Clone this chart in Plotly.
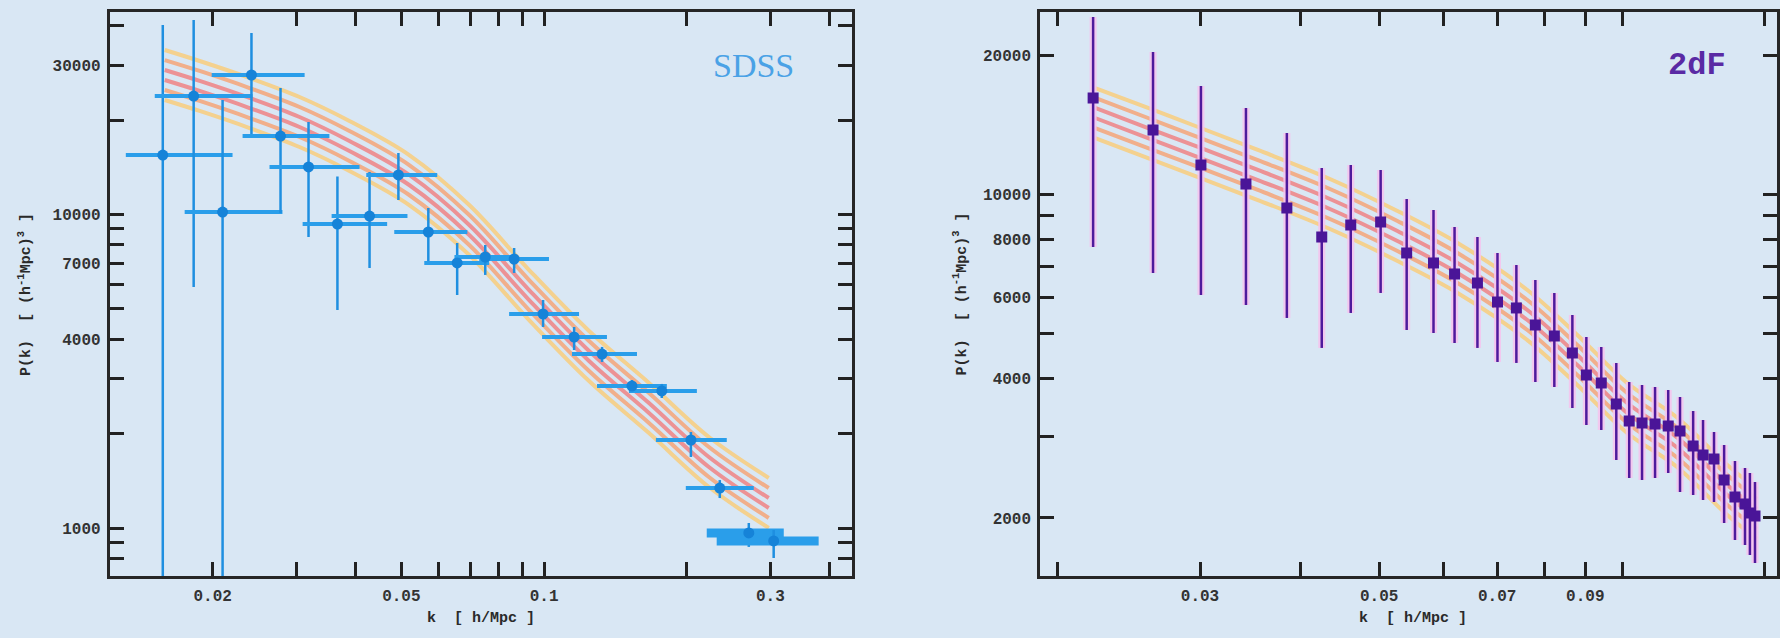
import plotly.graph_objects as go

# ---------------- SDSS (left panel) ----------------
sdss_k = [0.01570, 0.01824, 0.02099, 0.02415, 0.02781, 0.03186, 0.03666, 0.04285, 0.04929, 0.05700, 0.06557,
          0.07515, 0.08646, 0.09951, 0.1157, 0.1325, 0.1532, 0.1771, 0.2040, 0.2347, 0.2702, 0.3049]
sdss_k_lo = [0.01312, 0.01510, 0.01746, 0.01991, 0.02313, 0.02636, 0.03096, 0.03564, 0.04217, 0.04831, 0.05589,
             0.06471, 0.07298, 0.08438, 0.09903, 0.1145, 0.1293, 0.1510, 0.1721, 0.1990, 0.2203, 0.2312]
sdss_k_hi = [0.02203, 0.02427, 0.02807, 0.03126, 0.03526, 0.04081, 0.04667, 0.05151, 0.05952, 0.06889, 0.07659,
             0.08646, 0.1024, 0.1185, 0.1357, 0.1570, 0.1815, 0.2100, 0.2428, 0.2768, 0.3202, 0.3793]
sdss_P = [15490, 23890, 10190, 27880, 17810, 14190, 9333, 9897, 13380, 8801, 7010,
          7325, 7218, 4819, 4070, 3591, 2840, 2738, 1910, 1342, 965, 910]
sdss_P_hi = [40270, 41780, 23210, 37930, 25340, 19740, 13240, 13670, 15720, 10500, 8117,
             8000, 7824, 5341, 4381, 3783, 2968, 2883, 2025, 1423, 1038, 986]
sdss_P_lo = [500, 5875, 500, 17680, 10120, 8482, 4963, 6757, 11130, 7010, 5541,
             6420, 6514, 4381, 3699, 3388, 2698, 2600, 1686, 1247, 871, 803]

# theory band (left), six curves from top to bottom
band1_k = [0.01585, 0.01878, 0.02393, 0.03050, 0.03886, 0.05195, 0.06953, 0.09299, 0.1244, 0.1664, 0.2226, 0.2977]
band1_c1 = [33500, 30900, 27280, 23720, 19890, 15490, 10730, 6656, 4253, 2903, 1952, 1445]
band1_c2 = [31120, 28720, 25340, 22040, 18480, 14390, 9970, 6185, 3952, 2697, 1814, 1342]
band1_c3 = [28920, 26690, 23550, 20480, 17170, 13380, 9265, 5746, 3672, 2506, 1686, 1247]
band1_c4 = [26880, 24800, 21880, 19030, 15950, 12430, 8608, 5340, 3412, 2329, 1566, 1159]
band1_c5 = [24970, 23040, 20330, 17680, 14830, 11550, 7998, 4962, 3170, 2164, 1455, 1077]
band1_c6 = [23210, 21410, 18890, 16430, 13780, 10730, 7432, 4610, 2945, 2010, 1352, 1001]

# ---------------- 2dF (right panel) ----------------
tdf_k = [0.02212, 0.02624, 0.03008, 0.03420, 0.03843, 0.04245, 0.04611, 0.05021, 0.05408, 0.05838, 0.06199,
         0.06617, 0.07006, 0.07394, 0.07805, 0.08239, 0.08674, 0.09027, 0.09419, 0.09831, 0.1020, 0.1058,
         0.1098, 0.1140, 0.1179, 0.1224, 0.1259, 0.1299, 0.1337, 0.1379, 0.1419, 0.1439, 0.1460]
tdf_P = [16150, 13770, 11570, 10530, 9344, 8088, 8587, 8716, 7472, 7109, 6730,
         6435, 5855, 5684, 5222, 4945, 4545, 4073, 3914, 3526, 3239, 3208,
         3192, 3161, 3083, 2861, 2736, 2682, 2416, 2220, 2144, 2050, 2020]
tdf_P_hi = [24160, 20300, 17140, 15370, 13570, 11400, 11570, 11290, 9772, 9252, 8502,
            8088, 7472, 7037, 6531, 6124, 5488, 4920, 4681, 4324, 3933, 3875,
            3836, 3780, 3650, 3405, 3256, 3068, 2876, 2655, 2565, 2501, 2393]
tdf_P_lo = [7697, 6765, 6062, 5768, 5408, 4659, 5544, 6124, 5093, 5018, 4775,
            4659, 4345, 4324, 3933, 3836, 3456, 3176, 3098, 2669, 2440, 2416,
            2440, 2501, 2277, 2243, 2187, 2166, 1951, 1793, 1748, 1664, 1599]

band2_k = [0.02225, 0.02587, 0.02983, 0.03538, 0.04318, 0.05268, 0.06252, 0.07629, 0.08797, 0.1014, 0.1169, 0.1349, 0.1468]
band2_c1 = [16970, 15370, 13980, 12470, 10850, 9207, 7852, 6215, 4969, 3914, 3297, 2603, 2310]
band2_c2 = [16150, 14620, 13300, 11860, 10320, 8760, 7469, 5913, 4727, 3724, 3138, 2477, 2198]
band2_c3 = [15370, 13910, 12660, 11290, 9820, 8334, 7109, 5626, 4497, 3543, 2986, 2356, 2091]
band2_c4 = [14620, 13230, 12040, 10740, 9344, 7929, 6765, 5353, 4279, 3371, 2840, 2243, 1990]
band2_c5 = [13910, 12590, 11460, 10220, 8890, 7544, 6436, 5093, 4073, 3208, 2702, 2134, 1893]
band2_c6 = [13230, 11980, 10900, 9723, 8458, 7178, 6124, 4845, 3875, 3052, 2577, 2030, 1802]

# ---------------- ticks ----------------
left_xticks = [0.02, 0.03, 0.04, 0.05, 0.06, 0.07, 0.08, 0.09, 0.1, 0.2, 0.3, 0.4]
left_xlabels = ["0.02", "", "", "0.05", "", "", "", "", "0.1", "", "0.3", ""]
left_yticks = [800, 900, 1000, 2000, 3000, 4000, 5000, 6000, 7000, 8000, 9000, 10000, 20000, 30000, 40000]
left_ylabels = ["", "", "1000", "", "", "4000", "", "", "7000", "", "", "10000", "", "30000", ""]
right_xticks = [0.02, 0.03, 0.04, 0.05, 0.06, 0.07, 0.08, 0.09, 0.1, 0.15]
right_xlabels = ["", "0.03", "", "0.05", "", "0.07", "", "0.09", "", "0.15"]
right_yticks = [2000, 3000, 4000, 5000, 6000, 7000, 8000, 9000, 10000, 20000]
right_ylabels = ["2000", "", "4000", "", "6000", "", "8000", "", "10000", "20000"]

BG = "#d9e7f4"
YEL = "rgba(248,205,125,0.85)"
ORA = "rgba(245,165,120,0.85)"
RED = "rgba(240,125,125,0.8)"
band_colors = [YEL, ORA, RED, RED, ORA, YEL]

fig = go.Figure()

for c, col in zip([band1_c1, band1_c2, band1_c3, band1_c4, band1_c5, band1_c6], band_colors):
    fig.add_trace(go.Scatter(x=band1_k, y=c, mode="lines", line=dict(color=col, width=4, shape="spline"),
                             xaxis="x", yaxis="y", hoverinfo="skip"))
for c, col in zip([band2_c1, band2_c2, band2_c3, band2_c4, band2_c5, band2_c6], band_colors):
    fig.add_trace(go.Scatter(x=band2_k, y=c, mode="lines", line=dict(color=col, width=4, shape="spline"),
                             xaxis="x2", yaxis="y2", hoverinfo="skip"))

# SDSS points
n_thin = 20
ex_p = [h - k for h, k in zip(sdss_k_hi, sdss_k)]
ex_m = [k - l for k, l in zip(sdss_k, sdss_k_lo)]
ey_p = [h - p for h, p in zip(sdss_P_hi, sdss_P)]
ey_m = [p - l for p, l in zip(sdss_P, sdss_P_lo)]
fig.add_trace(go.Scatter(
    x=sdss_k[:n_thin], y=sdss_P[:n_thin], mode="markers",
    marker=dict(symbol="circle", size=11, color="#1683d8"),
    error_x=dict(type="data", symmetric=False, array=ex_p[:n_thin], arrayminus=ex_m[:n_thin],
                 color="#2a9eea", thickness=4, width=0),
    error_y=dict(type="data", symmetric=False, array=ey_p[:n_thin], arrayminus=ey_m[:n_thin],
                 color="#1f8fe0", thickness=2.5, width=0),
    xaxis="x", yaxis="y"))
fig.add_trace(go.Scatter(
    x=sdss_k[n_thin:], y=sdss_P[n_thin:], mode="markers",
    marker=dict(symbol="circle", size=11, color="#1683d8"),
    error_x=dict(type="data", symmetric=False, array=ex_p[n_thin:], arrayminus=ex_m[n_thin:],
                 color="#2a9eea", thickness=9, width=0),
    error_y=dict(type="data", symmetric=False, array=ey_p[n_thin:], arrayminus=ey_m[n_thin:],
                 color="#1f8fe0", thickness=2.5, width=0),
    xaxis="x", yaxis="y"))

# 2dF points: pink halo then purple bars
ty_p = [h - p for h, p in zip(tdf_P_hi, tdf_P)]
ty_m = [p - l for p, l in zip(tdf_P, tdf_P_lo)]
fig.add_trace(go.Scatter(
    x=tdf_k, y=tdf_P, mode="markers", marker=dict(size=1, color="rgba(0,0,0,0)"),
    error_y=dict(type="data", symmetric=False, array=ty_p, arrayminus=ty_m,
                 color="rgba(244,196,238,0.9)", thickness=7, width=0),
    xaxis="x2", yaxis="y2", hoverinfo="skip"))
fig.add_trace(go.Scatter(
    x=tdf_k, y=tdf_P, mode="markers",
    marker=dict(symbol="square", size=11, color="#4a1598"),
    error_y=dict(type="data", symmetric=False, array=ty_p, arrayminus=ty_m,
                 color="#4e1a9c", thickness=2.5, width=0),
    xaxis="x2", yaxis="y2"))

tickfont = dict(family="Liberation Mono", size=16, color="#333333", weight="bold")
common = dict(type="log", showgrid=False, zeroline=False, showline=True, linewidth=3,
              linecolor="#262626", mirror="ticks", ticks="inside", ticklen=14, tickwidth=2.5,
              tickcolor="#222222", tickfont=tickfont)

fig.update_layout(
    width=1780, height=638,
    margin=dict(l=0, r=0, t=0, b=0),
    paper_bgcolor=BG, plot_bgcolor=BG,
    showlegend=False,
    xaxis=dict(common, domain=[110 / 1780, 853 / 1780], range=[-1.9158, -0.3516],
               tickvals=left_xticks, ticktext=left_xlabels, anchor="y", ticklabelstandoff=3),
    yaxis=dict(common, domain=[62 / 638, 626 / 638], range=[2.8472, 4.6463],
               tickvals=left_yticks, ticktext=left_ylabels, anchor="x", ticklabelstandoff=3),
    xaxis2=dict(common, domain=[1042 / 1780, 1.0], range=[-1.7207, -0.8084],
                tickvals=right_xticks, ticktext=right_xlabels, anchor="y2", ticklabelstandoff=3),
    yaxis2=dict(common, domain=[62 / 638, 626 / 638], range=[3.1757, 4.3939],
                tickvals=right_yticks, ticktext=right_ylabels, anchor="x2", ticklabelstandoff=3),
)

title_font = dict(family="Liberation Mono", size=15, color="#2a2a2a", weight="bold")
ytitle = "P(k)  [ (h<sup>-1</sup>Mpc)<sup>3</sup> ]"
xtitle = "k  [ h/Mpc ]"
fig.add_annotation(text=ytitle, x=25 / 1780, y=(638 - 294) / 638, xanchor="center", yanchor="middle",
                   xref="paper", yref="paper", textangle=-90, showarrow=False, font=title_font)
fig.add_annotation(text=ytitle, x=962 / 1780, y=(638 - 294) / 638, xanchor="center", yanchor="middle",
                   xref="paper", yref="paper", textangle=-90, showarrow=False, font=title_font)
fig.add_annotation(text=xtitle, x=482 / 1780, y=(638 - 618) / 638, xanchor="center", yanchor="middle",
                   xref="paper", yref="paper", showarrow=False, font=title_font)
fig.add_annotation(text=xtitle, x=1415 / 1780, y=(638 - 618) / 638, xanchor="center", yanchor="middle",
                   xref="paper", yref="paper", showarrow=False, font=title_font)
fig.add_annotation(text="SDSS", x=755 / 1780, y=(638 - 66) / 638, xanchor="center", yanchor="middle",
                   xref="paper", yref="paper",
                   showarrow=False, font=dict(family="Liberation Serif", size=34, color="#4aa2e6"))
fig.add_annotation(text="2dF", x=1700 / 1780, y=(638 - 66) / 638, xanchor="center", yanchor="middle",
                   xref="paper", yref="paper",
                   showarrow=False, font=dict(family="Liberation Mono", size=32, color="#5a2aa4", weight="bold"))

fig.write_html("out.html", config={"displayModeBar": False},
               post_script="document.body.style.margin='0';document.body.style.background='" + BG + "';")
